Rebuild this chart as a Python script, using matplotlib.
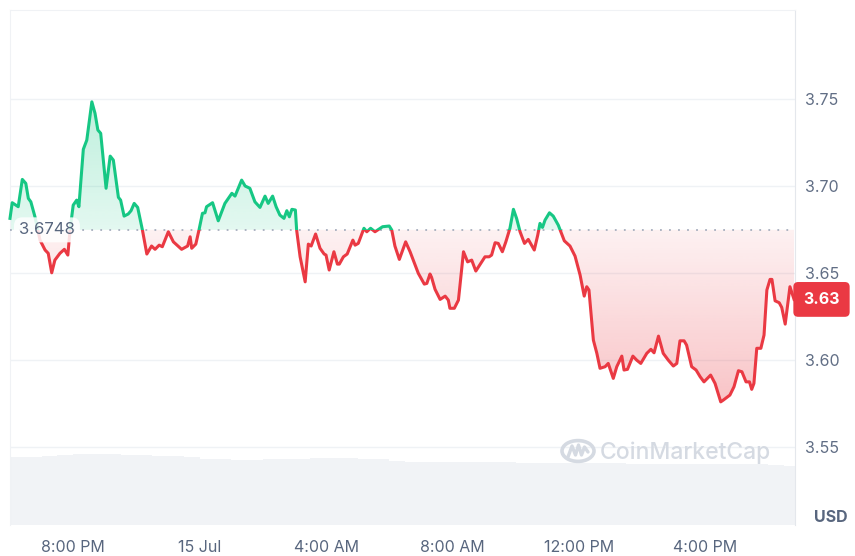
import numpy as np
import matplotlib.pyplot as plt
from matplotlib.path import Path
from matplotlib.patches import Rectangle, Circle
from matplotlib.lines import Line2D
from matplotlib.colors import to_rgb
import matplotlib.transforms as mtransforms

plt.rcParams['font.family'] = ['Inter', 'DejaVu Sans']

# hours since 6:00 PM, 14 Jul
hours = [0.00, 0.07, 0.26, 0.39, 0.50, 0.58, 0.66, 0.79, 0.95, 1.11, 1.21, 1.32, 1.42, 1.58,
         1.72, 1.83, 1.90, 2.00, 2.11, 2.18, 2.32, 2.43, 2.59, 2.69, 2.78, 2.87, 3.04, 3.17,
         3.27, 3.43, 3.50, 3.61, 3.74, 3.83, 3.93, 4.04, 4.19, 4.33, 4.48, 4.59, 4.72, 4.82,
         5.01, 5.17, 5.43, 5.62, 5.70, 5.75, 5.88, 5.98, 6.09, 6.17, 6.22, 6.41, 6.59, 6.80,
         7.02, 7.12, 7.33, 7.44, 7.59, 7.75, 7.91, 8.07, 8.17, 8.31, 8.42, 8.54, 8.67, 8.76,
         8.84, 8.92, 9.03, 9.07, 9.18, 9.34, 9.44, 9.53, 9.67, 9.81, 9.94, 10.00, 10.10, 10.25,
         10.36, 10.42, 10.55, 10.67, 10.85, 10.92, 11.02, 11.20, 11.29, 11.41, 11.55, 11.79,
         12.00, 12.08, 12.18, 12.32, 12.52, 12.66, 12.92, 13.11, 13.19, 13.29, 13.34, 13.45,
         13.61, 13.77, 13.87, 13.92, 14.06, 14.19, 14.35, 14.48, 14.61, 14.74, 14.91, 15.03,
         15.16, 15.24, 15.35, 15.45, 15.58, 15.69, 15.82, 15.93, 16.03, 16.14, 16.28, 16.40,
         16.59, 16.70, 16.77, 16.85, 16.93, 17.07, 17.19, 17.35, 17.54, 17.72, 17.88, 18.04,
         18.17, 18.25, 18.32, 18.39, 18.46, 18.57, 18.67, 18.83, 18.93, 19.09, 19.20, 19.36,
         19.43, 19.54, 19.71, 19.83, 19.96, 20.15, 20.28, 20.38, 20.52, 20.67, 20.83, 20.99,
         21.10, 21.20, 21.33, 21.41, 21.57, 21.71, 21.84, 21.96, 22.17, 22.31, 22.49, 22.57,
         22.78, 22.91, 23.05, 23.16, 23.29, 23.40, 23.47, 23.54, 23.63, 23.76, 23.86, 23.95,
         24.05, 24.11, 24.21, 24.34, 24.42, 24.53, 24.68, 24.81]
price = [3.6814, 3.6904, 3.6881, 3.7038, 3.7015, 3.6929, 3.6909, 3.6823, 3.6689, 3.6632,
         3.6613, 3.6501, 3.6574, 3.6613, 3.6636, 3.6603, 3.6747, 3.6890, 3.6919, 3.6881,
         3.7211, 3.7264, 3.7484, 3.7418, 3.7322, 3.7303, 3.6987, 3.7172, 3.7149, 3.6935,
         3.6919, 3.6827, 3.6839, 3.6858, 3.6900, 3.6877, 3.6747, 3.6609, 3.6655, 3.6636,
         3.6660, 3.6651, 3.6737, 3.6679, 3.6636, 3.6655, 3.6708, 3.6642, 3.6666, 3.6747,
         3.6843, 3.6846, 3.6881, 3.6904, 3.6800, 3.6900, 3.6958, 3.6942, 3.7034, 3.7000,
         3.6987, 3.6909, 3.6877, 3.6942, 3.6900, 3.6942, 3.6881, 3.6833, 3.6814, 3.6858,
         3.6823, 3.6866, 3.6862, 3.6747, 3.6593, 3.6449, 3.6666, 3.6655, 3.6724, 3.6642,
         3.6609, 3.6603, 3.6517, 3.6622, 3.6551, 3.6551, 3.6593, 3.6609, 3.6689, 3.6660,
         3.6670, 3.6757, 3.6737, 3.6757, 3.6737, 3.6766, 3.6770, 3.6747, 3.6655, 3.6578,
         3.6679, 3.6622, 3.6498, 3.6436, 3.6440, 3.6494, 3.6475, 3.6406, 3.6348, 3.6367,
         3.6344, 3.6297, 3.6297, 3.6344, 3.6622, 3.6564, 3.6574, 3.6511, 3.6559, 3.6593,
         3.6593, 3.6603, 3.6674, 3.6670, 3.6622, 3.6679, 3.6757, 3.6866, 3.6814, 3.6737,
         3.6670, 3.6693, 3.6632, 3.6718, 3.6785, 3.6762, 3.6804, 3.6846, 3.6827, 3.6775,
         3.6685, 3.6655, 3.6597, 3.6488, 3.6367, 3.6421, 3.6402, 3.6258, 3.6114, 3.6038,
         3.5952, 3.5961, 3.5980, 3.5894, 3.5961, 3.6022, 3.5942, 3.5946, 3.6022, 3.5999,
         3.5980, 3.6038, 3.6061, 3.6041, 3.6137, 3.6038, 3.5999, 3.5965, 3.5980, 3.6110,
         3.6110, 3.6085, 3.5961, 3.5942, 3.5903, 3.5874, 3.5913, 3.5865, 3.5759, 3.5769,
         3.5798, 3.5846, 3.5938, 3.5932, 3.5874, 3.5874, 3.5831, 3.5865, 3.6067, 3.6067,
         3.6143, 3.6402, 3.6463, 3.6463, 3.6340, 3.6329, 3.6302, 3.6206, 3.6421, 3.6348]

base_price = 3.6748

# half-hourly volume (millions)
volume = [6.83, 6.85, 6.90, 7.00, 7.10, 7.15, 7.15, 7.05, 7.00, 6.95, 6.90, 6.80, 6.65,
          6.60, 6.55, 6.55, 6.57, 6.60, 6.65, 6.70, 6.73, 6.70, 6.65, 6.60, 6.45, 6.35,
          6.30, 6.30, 6.30, 6.30, 6.28, 6.27, 6.25, 6.25, 6.23, 6.20, 6.20, 6.18, 6.17,
          6.15, 6.15, 6.13, 6.12, 6.10, 6.10, 6.10, 6.08, 6.07, 6.05, 5.90]
vol_hours = np.arange(len(volume)) * 0.5 + 0.25

tick_hours = [2, 6, 10, 14, 18, 22]
tick_labels = ['8:00 PM', '15 Jul', '4:00 AM', '8:00 AM', '12:00 PM', '4:00 PM']
price_ticks = [3.55, 3.60, 3.65, 3.70, 3.75]

green = '#16c784'
red = '#ea3943'
text_grey = '#616e85'
x_max = 24.84
y_lo, y_hi = 3.5051, 3.8012

fig = plt.figure(figsize=(8.55, 5.56), dpi=100)
pos = [10 / 855, 31 / 556, 785 / 855, 515 / 556]

# volume bars in their own axes behind the price
vax = fig.add_axes(pos)
vax.bar(vol_hours, volume, width=0.5, color='#f1f3f6', linewidth=0)
vax.set_xlim(0, x_max)
vax.set_ylim(0, 51.5)
vax.axis('off')

ax = fig.add_axes(pos, zorder=2)
ax.patch.set_alpha(0)

# price line split in colour at the opening price
line_g, = ax.plot(hours, price, color=green, lw=2.2, zorder=4, solid_joinstyle='round')
line_r, = ax.plot(hours, price, color=red, lw=2.2, zorder=4, solid_joinstyle='round')
line_g.set_clip_path(Rectangle((-1, base_price), 30, 1, transform=ax.transData))
line_r.set_clip_path(Rectangle((-1, base_price - 1), 30, 1, transform=ax.transData))

p = np.array(price)


def gradient_fill(coll, color, y0, y1, a0, a1):
    path = Path.make_compound_path(*coll.get_paths())
    img = np.zeros((256, 1, 4))
    img[:, :, :3] = to_rgb(color)
    img[:, 0, 3] = np.linspace(a0, a1, 256)
    im = ax.imshow(img, extent=[0, x_max, y0, y1], origin='lower', aspect='auto',
                   zorder=2, interpolation='bilinear')
    im.set_clip_path(path, transform=ax.transData)
    coll.remove()


fg = ax.fill_between(hours, price, base_price, where=p >= base_price, interpolate=True, lw=0)
gradient_fill(fg, green, base_price, 3.75, 0.12, 0.28)
fr = ax.fill_between(hours, price, base_price, where=p <= base_price, interpolate=True, lw=0)
gradient_fill(fr, red, 3.575, base_price, 0.30, 0.07)

ax.axhline(base_price, color='#a7afbe', lw=1.3, ls=(0, (1, 4)), zorder=3)

ax.set_xlim(0, x_max)
ax.set_ylim(y_lo, y_hi)

ax.yaxis.tick_right()
ax.set_yticks(price_ticks)
ax.set_yticklabels([f'{v:.2f}' for v in price_ticks])
ax.set_xticks(tick_hours)
ax.set_xticklabels(tick_labels)
ax.tick_params(axis='y', length=0, pad=7, labelsize=11.5, labelcolor=text_grey)
ax.tick_params(axis='x', length=0, pad=11, labelsize=11.5, labelcolor='#58667e')
ax.grid(axis='y', color='#eff2f5', lw=1, zorder=0)
ax.set_axisbelow(True)
for side in ['left', 'top']:
    ax.spines[side].set_color('#f0f2f5')
ax.spines['right'].set_color('#e4e7ec')
ax.spines['bottom'].set_visible(False)

# opening price label
ax.text(0.0115, base_price, f'{base_price:.4f}',
        transform=mtransforms.blended_transform_factory(ax.transAxes, ax.transData),
        ha='left', va='center', fontsize=12, color='#58667e', zorder=6,
        bbox=dict(boxstyle='round,pad=0.3,rounding_size=0.5', fc='white', ec='none', alpha=0.85))

# last price tag
ax.annotate(f'{price[-1]:.2f}', xy=(1.0, price[-1]), xycoords=('axes fraction', 'data'),
            xytext=(26.5, 0), textcoords='offset pixels', ha='center', va='center',
            fontsize=11.5, fontweight='bold', color='white', annotation_clip=False, zorder=10,
            bbox=dict(boxstyle='round,pad=0.62,rounding_size=0.3', fc=red, ec='none'))

fig.text(831 / 855, 1 - 518 / 556, 'USD', ha='center', va='center', fontsize=11.5,
         fontweight='bold', color='#58667e')

# watermark
wm = '#d5dae2'
fig.patches.append(Circle((578 / 855, 1 - 451 / 556), 16 / 855, transform=fig.transFigure,
                          fill=False, ec=wm, lw=2.6, zorder=3))
wave_x = np.array([568, 572, 575.5, 578.5, 581.5, 584.5, 588]) / 855
wave_y = 1 - np.array([457, 446, 455, 445, 455, 447, 452]) / 556
fig.lines.append(Line2D(wave_x, wave_y, transform=fig.transFigure, color=wm, lw=2.4,
                        solid_joinstyle='round', solid_capstyle='round', zorder=3))
fig.text(600 / 855, 1 - 453 / 556, 'CoinMarketCap', ha='left', va='center', fontsize=16.5,
         fontweight='medium', color=wm, zorder=3)

fig.savefig('out.png', dpi=100, facecolor='white')
